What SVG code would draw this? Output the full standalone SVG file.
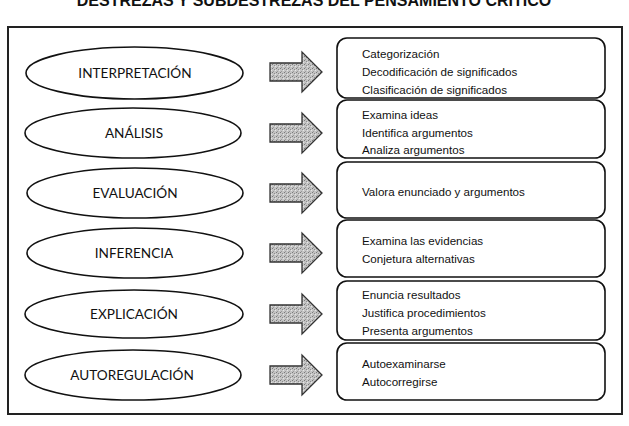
<svg xmlns="http://www.w3.org/2000/svg" width="629" height="426" viewBox="0 0 629 426">
<defs>
<pattern id="tex" width="4" height="4" patternUnits="userSpaceOnUse">
<rect width="4" height="4" fill="#c4c4c4"/>
<rect x="0" y="0" width="1" height="1" fill="#7a7a7a"/>
<rect x="2" y="1" width="1" height="1" fill="#8d8d8d"/>
<rect x="1" y="3" width="1" height="1" fill="#9a9a9a"/>
<rect x="3" y="2" width="1" height="1" fill="#e6e6e6"/>
</pattern>
<style>
.title{font-family:"Liberation Sans",Arial,sans-serif;font-weight:bold;font-size:16px;fill:#111}
.ell{fill:#fff;stroke:#111;stroke-width:1.6}
.lbl{font-family:Lato,"Open Sans",sans-serif;font-size:13.6px;fill:#111;text-anchor:middle}
.arr{fill:url(#tex);stroke:#333;stroke-width:1.3}
.box{fill:#fff;stroke:#111;stroke-width:1.6}
.txt{font-family:"Liberation Sans",Arial,sans-serif;font-size:11.6px;fill:#111}
.frame{fill:none;stroke:#222;stroke-width:2}
</style>
</defs>
<rect width="629" height="426" fill="#fff"/>
<text class="title" x="314" y="5.5" text-anchor="middle">DESTREZAS Y SUBDESTREZAS DEL PENSAMIENTO CRITICO</text>
<rect class="frame" x="8" y="27" width="614" height="387"/>

<g id="connectors">
<path class="arr" d="M270,63 H302 V52 L322,72 L302,92 V81 H270 Z"/>
<path class="arr" d="M270,124 H302 V113 L322,133 L302,153 V142 H270 Z"/>
<path class="arr" d="M270,184 H302 V173 L322,193 L302,213 V202 H270 Z"/>
<path class="arr" d="M270,244 H302 V233 L322,253 L302,273 V262 H270 Z"/>
<path class="arr" d="M270,305 H302 V294 L322,314 L302,334 V323 H270 Z"/>
<path class="arr" d="M270,366 H302 V355 L322,375 L302,395 V384 H270 Z"/>
</g>

<g id="interpretacion"><ellipse class="ell" cx="134.5" cy="73" rx="108.5" ry="26"/><text class="lbl" x="135" y="78">INTERPRETACIÓN</text></g>
<g id="analisis"><ellipse class="ell" cx="133" cy="133" rx="108" ry="25"/><text class="lbl" x="134" y="138">ANÁLISIS</text></g>
<g id="evaluacion"><ellipse class="ell" cx="135" cy="193" rx="108" ry="25"/><text class="lbl" x="135" y="198">EVALUACIÓN</text></g>
<g id="inferencia"><ellipse class="ell" cx="135" cy="253" rx="108" ry="25"/><text class="lbl" x="134" y="258">INFERENCIA</text></g>
<g id="explicacion"><ellipse class="ell" cx="134" cy="314" rx="109" ry="24"/><text class="lbl" x="134" y="319">EXPLICACIÓN</text></g>
<g id="autoregulacion"><ellipse class="ell" cx="133" cy="375" rx="108" ry="25"/><text class="lbl" x="132" y="380">AUTOREGULACIÓN</text></g>

<g id="box1"><rect class="box" x="337" y="38" width="268" height="60" rx="10"/>
<text class="txt" x="362" y="57.5">Categorización</text>
<text class="txt" x="362" y="76">Decodificación de significados</text>
<text class="txt" x="362" y="94">Clasificación de significados</text></g>
<g id="box2"><rect class="box" x="337" y="100" width="268" height="58" rx="10"/>
<text class="txt" x="362" y="119">Examina ideas</text>
<text class="txt" x="362" y="137">Identifica argumentos</text>
<text class="txt" x="362" y="154">Analiza argumentos</text></g>
<g id="box3"><rect class="box" x="337" y="162" width="268" height="56" rx="10"/>
<text class="txt" x="362" y="196">Valora enunciado y argumentos</text></g>
<g id="box4"><rect class="box" x="337" y="220" width="268" height="57" rx="10"/>
<text class="txt" x="362" y="245">Examina las evidencias</text>
<text class="txt" x="362" y="263">Conjetura alternativas</text></g>
<g id="box5"><rect class="box" x="337" y="281" width="268" height="59" rx="10"/>
<text class="txt" x="362" y="299">Enuncia resultados</text>
<text class="txt" x="362" y="317">Justifica procedimientos</text>
<text class="txt" x="362" y="335">Presenta argumentos</text></g>
<g id="box6"><rect class="box" x="337" y="343" width="268" height="57" rx="10"/>
<text class="txt" x="362" y="368">Autoexaminarse</text>
<text class="txt" x="362" y="386">Autocorregirse</text></g>
</svg>
